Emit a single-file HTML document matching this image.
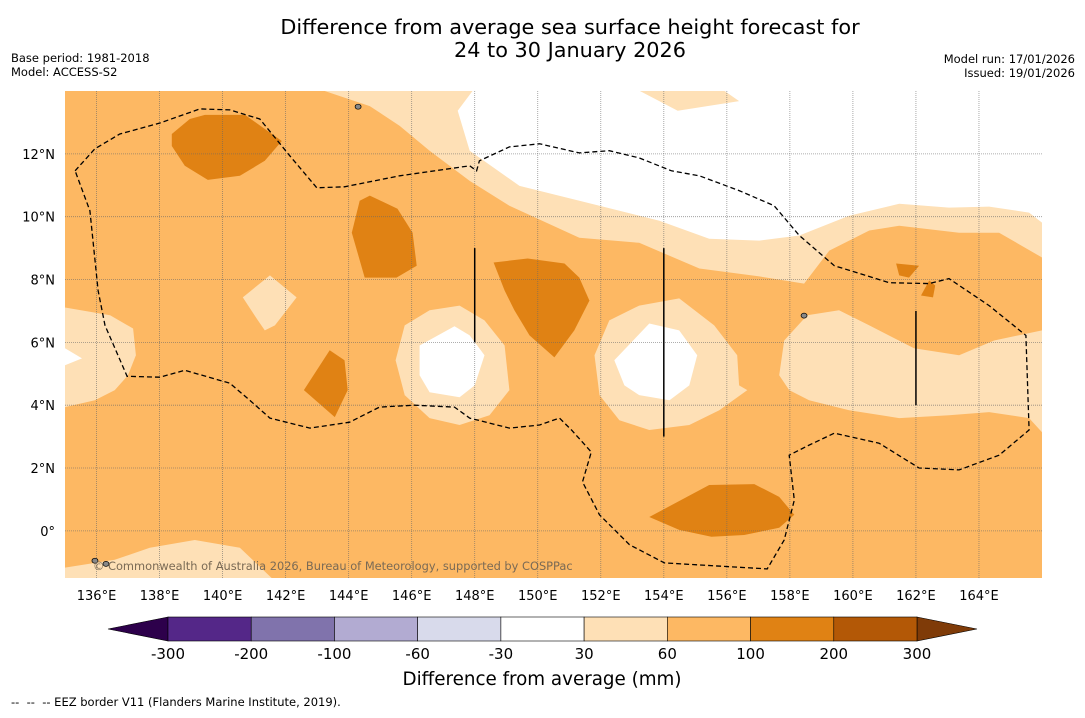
<!DOCTYPE html>
<html><head><meta charset="utf-8">
<style>
body{margin:0;background:#fff;font-family:"Liberation Sans","DejaVu Sans",sans-serif;}
svg text{font-family:"DejaVu Sans","Liberation Sans",sans-serif;}
</style></head>
<body>
<svg id="chart" width="1085" height="713" viewBox="0 0 1085 713" xmlns="http://www.w3.org/2000/svg">
<text x="570" y="34" font-size="20.8" text-anchor="middle">Difference from average sea surface height forecast for</text>
<text x="570" y="57" font-size="20.8" text-anchor="middle">24 to 30 January 2026</text>
<text x="11" y="62" font-size="11.5">Base period: 1981-2018</text>
<text x="11" y="76" font-size="11.5">Model: ACCESS-S2</text>
<text x="1075" y="63" font-size="11.5" text-anchor="end">Model run: 17/01/2026</text>
<text x="1075" y="77" font-size="11.5" text-anchor="end">Issued: 19/01/2026</text>
<defs><clipPath id="mapclip"><rect x="65" y="91" width="977" height="487"/></clipPath></defs>
<g id="map" clip-path="url(#mapclip)"></g>
<g id="axes"></g>
<g id="cbar"></g>
<text x="542" y="685" font-size="18.3" text-anchor="middle">Difference from average (mm)</text>
<text x="11" y="706" font-size="11.5" xml:space="preserve">--  --  -- EEZ border V11 (Flanders Marine Institute, 2019).</text>
</svg>
<script>
const lonTicks=[136,138,140,142,144,146,148,150,152,154,156,158,160,162,164];
const latTicks=[0,2,4,6,8,10,12];
const cbarLevels=[-300,-200,-100,-60,-30,30,60,100,200,300];
const cbarColors=["#542788","#8073ac","#b2abd2","#d8daeb","#ffffff","#fee0b6","#fdb863","#e08214","#b35806"];
const paleBand=[[143.24,14],[144.67,13.52],[145.62,12.89],[146.57,12.1],[147.84,11.14],[149.1,10.35],[151.32,9.33],[153.22,9.17],[155.13,8.35],[157.03,8.1],[158.45,7.87],[159.25,8.92],[160.52,9.56],[161.47,9.71],[163.37,9.49],[164.64,9.49],[166,8.7],[166,14]];
const whiteTop=[[147.93,14],[147.46,13.37],[147.84,12.1],[149.42,10.98],[151.96,10.35],[153.86,9.87],[155.44,9.3],[157.03,9.24],[158.3,9.4],[159.88,10.03],[161.47,10.41],[163.05,10.29],[164.32,10.32],[165.59,10.13],[166,9.81],[166,14]];
const paleTopSmall=[[153.24,14],[154.44,13.37],[156.39,13.68],[155.93,14]];
const paleLeft=[[135,7.11],[136.43,6.86],[137.16,6.44],[137.25,5.59],[137.0,4.95],[136.58,4.48],[135.95,4.16],[135,3.94]];
const whiteLeft=[[135,5.81],[135.54,5.49],[135,5.27]];
const paleDiamond=[[140.64,7.43],[141.5,8.13],[142.35,7.43],[141.66,6.54],[141.34,6.38],[141.12,6.7]];
const paleCL=[[145.78,6.54],[146.57,7.02],[147.52,7.17],[148.31,6.7],[148.95,5.9],[149.1,4.48],[148.47,3.68],[147.52,3.37],[146.57,3.59],[145.78,4.32],[145.49,5.43]];
const whiteCL=[[146.25,5.9],[147.36,6.51],[147.84,6.22],[148.31,5.59],[148.0,4.63],[147.52,4.25],[146.57,4.41],[146.25,4.95]];
const paleCR=[[152.27,6.7],[153.22,7.17],[154.49,7.4],[155.6,6.54],[156.33,5.59],[156.39,4.63],[156.65,4.48],[155.76,3.84],[154.81,3.37],[153.54,3.21],[152.59,3.52],[151.96,4.32],[151.8,5.59]];
const whiteCR=[[152.43,5.43],[153.54,6.6],[154.49,6.38],[155.06,5.59],[154.81,4.63],[154.18,4.16],[153.22,4.32],[152.75,4.63]];
const paleRight=[[158.55,6.86],[159.56,7.02],[160.52,6.54],[161.94,5.81],[163.37,5.59],[164.48,6.06],[166,6.38],[166,3.14],[165.59,3.59],[164.32,3.78],[163.05,3.68],[161.47,3.59],[159.88,3.84],[158.61,4.16],[157.98,4.48],[157.66,4.95],[157.82,6.06]];
const paleBottom=[[135,-1.17],[136.58,-0.92],[137.69,-0.54],[139.12,-0.29],[140.55,-0.54],[141.66,-1.6],[135,-1.6]];
const darkA=[[138.39,12.63],[138.96,13.11],[139.44,13.24],[140.71,13.24],[141.88,12.41],[141.34,11.78],[140.55,11.3],[139.53,11.17],[138.8,11.62],[138.39,12.25]];
const darkB=[[144.35,10.51],[144.67,10.67],[145.55,10.25],[146.03,9.49],[146.16,8.44],[145.52,8.06],[144.51,8.06],[144.1,9.49]];
const darkC=[[142.58,4.48],[143.4,5.75],[143.87,5.43],[143.97,4.48],[143.56,3.62]];
const darkD=[[148.6,8.54],[149.68,8.67],[150.85,8.51],[151.32,8.06],[151.64,7.33],[151.16,6.38],[150.53,5.52],[149.74,6.22],[149.26,7.02],[148.95,7.65]];
const darkE=[[153.54,0.44],[155.44,1.46],[156.87,1.49],[157.66,1.08],[158.14,0.51],[157.66,0.1],[156.55,-0.13],[155.51,-0.19],[154.49,0.03]];
const darkF=[[161.37,8.51],[162.1,8.44],[161.78,8.06],[161.47,8.13]];
const darkG=[[162.16,7.49],[162.42,7.97],[162.61,7.81],[162.54,7.43]];
const eezBorder=[[135.32,11.46],[135.95,12.16],[136.74,12.63],[138.01,12.98],[139.28,13.43],[140.23,13.4],[141.18,13.11],[142.13,11.94],[142.99,10.92],[143.87,10.95],[145.62,11.3],[147.84,11.62],[148.06,11.46],[148.15,11.78],[149.1,12.22],[150.06,12.32],[151.32,12.03],[152.27,12.1],[153.22,11.87],[154.24,11.46],[155.13,11.3],[156.39,10.83],[157.5,10.35],[158.3,9.4],[159.41,8.44],[161.15,7.9],[162.42,7.87],[163.05,8.03],[164.32,7.17],[165.49,6.22],[165.59,3.21],[164.64,2.41],[163.37,1.94],[162.1,2.0],[160.83,2.79],[159.41,3.11],[158.61,2.73],[157.98,2.41],[158.14,0.98],[157.82,-0.29],[157.28,-1.21],[154.02,-1.02],[152.91,-0.44],[151.96,0.51],[151.42,1.56],[151.7,2.51],[151.07,3.21],[150.69,3.59],[150.06,3.37],[149.1,3.27],[147.84,3.59],[147.36,3.94],[146.09,4.0],[144.98,3.94],[144.03,3.46],[142.77,3.27],[141.5,3.59],[140.86,4.16],[140.23,4.7],[138.8,5.11],[138.01,4.89],[136.97,4.92],[136.27,6.54],[136.05,7.65],[135.79,10.19]];
const solidLons=[148,154,162];
const solidLatTop=[9,9,7];
const solidLatBot=[6,3,4];
const islands=[[144.3,13.5],[158.45,6.85],[135.95,-0.95],[136.3,-1.05]];

const NS='http://www.w3.org/2000/svg';
const X0=65,X1=1042,Y0=91,Y1=578,LON0=135,LON1=166,LAT0=-1.5,LAT1=14;
const xs=lon=>X0+(lon-LON0)/(LON1-LON0)*(X1-X0);
const ys=lat=>Y1-(lat-LAT0)/(LAT1-LAT0)*(Y1-Y0);
function mk(tag,attrs,parent){const e=document.createElementNS(NS,tag);for(const k in attrs)e.setAttribute(k,attrs[k]);parent.appendChild(e);return e;}
const map=document.getElementById('map');
const bg=mk('rect',{x:X0,y:Y0,width:X1-X0,height:Y1-Y0,fill:'#fdb863'},map);


const pts=a=>a.map(p=>xs(p[0]).toFixed(1)+','+ys(p[1]).toFixed(1)).join(' ');
const layers=[['pale-band',paleBand,'#fee0b6'],['white-top',whiteTop,'#ffffff'],['pale-top-small',paleTopSmall,'#fee0b6'],['pale-left',paleLeft,'#fee0b6'],['white-left',whiteLeft,'#ffffff'],['pale-diamond',paleDiamond,'#fee0b6'],['pale-center-left',paleCL,'#fee0b6'],['white-center-left',whiteCL,'#ffffff'],['pale-center-right',paleCR,'#fee0b6'],['white-center-right',whiteCR,'#ffffff'],['pale-right',paleRight,'#fee0b6'],['pale-bottom',paleBottom,'#fee0b6'],['dark-a',darkA,'#e08214'],['dark-b',darkB,'#e08214'],['dark-c',darkC,'#e08214'],['dark-d',darkD,'#e08214'],['dark-e',darkE,'#e08214'],['dark-f',darkF,'#e08214'],['dark-g',darkG,'#e08214']];
layers.forEach(l=>{const p=mk('polygon',{points:pts(l[1]),fill:l[2]},map);

});
lonTicks.forEach(v=>{const g=mk('line',{x1:xs(v),x2:xs(v),y1:Y0,y2:Y1,stroke:'#666','stroke-width':0.8,'stroke-dasharray':'1,1','stroke-opacity':0.7},map);

});
latTicks.forEach(v=>{const g=mk('line',{x1:X0,x2:X1,y1:ys(v),y2:ys(v),stroke:'#666','stroke-width':0.8,'stroke-dasharray':'1,1','stroke-opacity':0.7},map);

});
const eez=mk('polygon',{points:pts(eezBorder),fill:'none',stroke:'#000','stroke-width':1.3,'stroke-dasharray':'5,3'},map);


solidLons.forEach((v,i)=>{const l=mk('line',{x1:xs(v),x2:xs(v),y1:ys(solidLatTop[i]),y2:ys(solidLatBot[i]),stroke:'#000','stroke-width':1.5},map);

});
islands.forEach(p=>{const c=mk('ellipse',{cx:xs(p[0]),cy:ys(p[1]),rx:3,ry:2.5,fill:'#888',stroke:'#000','stroke-width':0.7},map);

});
const cr=mk('text',{x:93,y:570,'font-size':11.4,fill:'#7a6a55'},map);
cr.textContent='© Commonwealth of Australia 2026, Bureau of Meteorology, supported by COSPPac';


const ax=document.getElementById('axes');
lonTicks.forEach(v=>{const t=mk('text',{x:xs(v),y:600,'font-size':13,'text-anchor':'middle'},ax);t.textContent=v+'°E';

});
latTicks.forEach(v=>{const t=mk('text',{x:55,y:ys(v)+5,'font-size':13,'text-anchor':'end'},ax);t.textContent=v===0?'0°':v+'°N';

});
const cb=document.getElementById('cbar');
const CX0=168,CX1=917,CY=617,CH=24;
const bw=(CX1-CX0)/cbarColors.length;
const lt=mk('polygon',{points:`${CX0},${CY} ${108},${CY+CH/2} ${CX0},${CY+CH}`,fill:'#2d004b',stroke:'#000','stroke-width':0.6},cb);


const rt=mk('polygon',{points:`${CX1},${CY} ${977},${CY+CH/2} ${CX1},${CY+CH}`,fill:'#7f3b08',stroke:'#000','stroke-width':0.6},cb);


cbarColors.forEach((c,i)=>{const r=mk('rect',{x:CX0+i*bw,y:CY,width:bw,height:CH,fill:c,stroke:'#000','stroke-width':0.6},cb);

});
cbarLevels.forEach((v,i)=>{const t=mk('text',{x:CX0+i*bw,y:659,'font-size':15,'text-anchor':'middle'},cb);t.textContent=v;

});
</script>
</body></html>
